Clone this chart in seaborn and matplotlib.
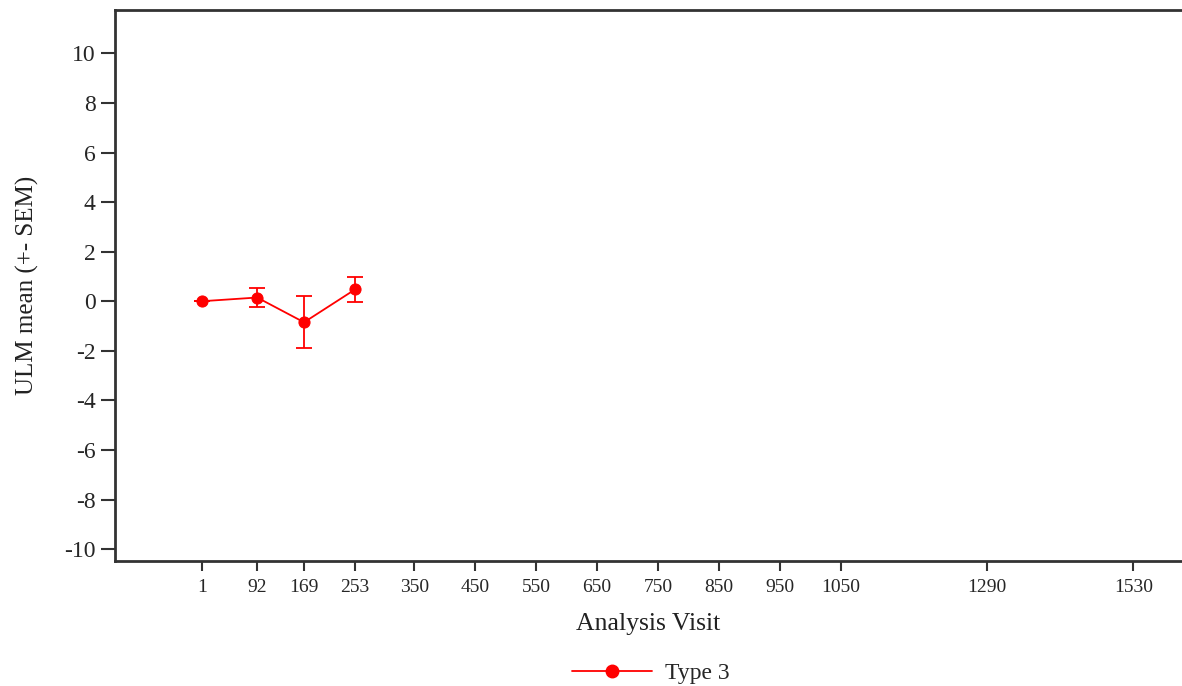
import matplotlib
matplotlib.use("Agg")
import matplotlib.pyplot as plt
import seaborn as sns
import pandas as pd
from matplotlib.lines import Line2D

visits = [1, 92, 169, 253]
means = [0.0, 0.15, -0.85, 0.48]
sems = [0.0, 0.40, 1.05, 0.50]
series_name = "Type 3"
xtick_values = [1, 92, 169, 253, 350, 450, 550, 650, 750, 850, 950, 1050, 1290, 1530]
ytick_values = [-10, -8, -6, -4, -2, 0, 2, 4, 6, 8, 10]

sns.set_theme(style="white")
plt.rcParams["font.family"] = ["Liberation Serif", "DejaVu Serif"]

df = pd.DataFrame({"visit": visits, "mean": means, "sem": sems, "group": series_name})

fig = plt.figure(figsize=(11.82, 6.86), dpi=100)
ax = fig.add_axes([115/1182, 1 - 561/686, 1 - 115/1182, (561 - 10)/686])

red = "#ff0000"
ax.errorbar(df["visit"], df["mean"], yerr=df["sem"], fmt="none", ecolor=red,
            elinewidth=1.3, capsize=6, capthick=1.3, zorder=2)
sns.lineplot(data=df, x="visit", y="mean", color=red, marker="o", markersize=8,
             markeredgecolor=red, linewidth=1.3, ax=ax, legend=False, zorder=3)

ax.set_xlim(-141.3, 1610)
ax.set_ylim(-10.48, 11.75)
ax.set_xticks(xtick_values)
ax.set_xticklabels([str(v) for v in xtick_values], fontsize=14)
ax.set_yticks(ytick_values)
ax.set_yticklabels([str(v) for v in ytick_values], fontsize=17)
ax.tick_params(axis="x", direction="out", length=7, width=1.5, color="#333333", pad=6, bottom=True)
ax.tick_params(axis="y", direction="out", length=10, width=1.5, color="#333333", pad=4, left=True)

for s in ["left", "bottom", "top"]:
    ax.spines[s].set_color("#333333")
    ax.spines[s].set_linewidth(2)
ax.spines["right"].set_visible(False)

ax.set_xlabel("Analysis Visit", fontsize=18.5, labelpad=12, color="#222222")
ax.set_ylabel("ULM mean (+- SEM)", fontsize=18, labelpad=18, color="#222222")

handle = Line2D([], [], color=red, marker="o", markersize=9, linewidth=1.3)
fig.legend([handle], [series_name], loc="center", bbox_to_anchor=(651/1182, 1 - 673/686),
           frameon=False, fontsize=17, handlelength=3.4, handletextpad=0.55)

fig.savefig("out.png", dpi=100)
